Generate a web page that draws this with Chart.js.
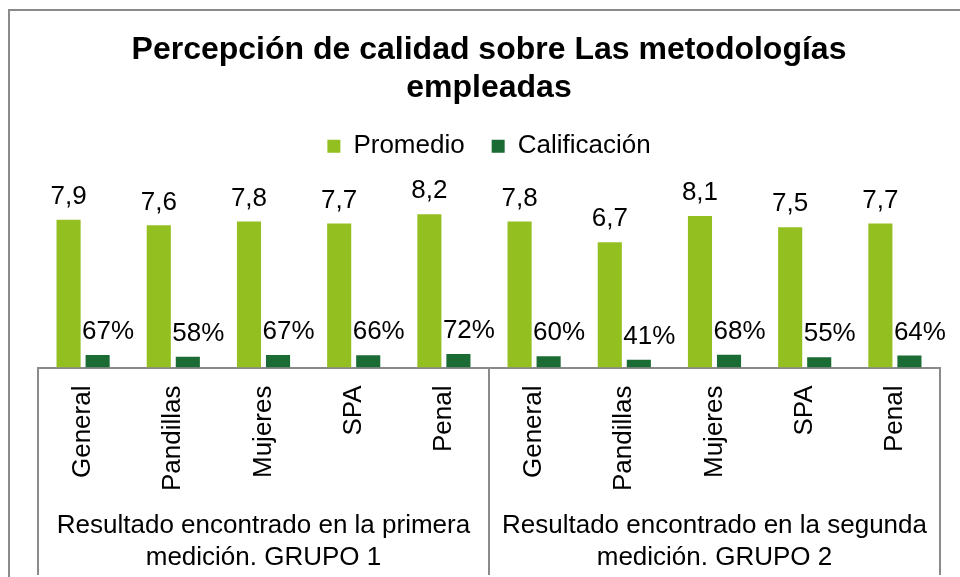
<!DOCTYPE html>
<html><head><meta charset="utf-8">
<script src="https://cdn.jsdelivr.net/npm/chart.js@4"></script>
<style>html,body{margin:0;padding:0;background:#fff}</style>
</head><body>
<canvas id="c" width="960" height="577"></canvas>
<script>
const categories = ['General','Pandillas','Mujeres','SPA','Penal','General','Pandillas','Mujeres','SPA','Penal'];
const groupLabels = [['Resultado encontrado en la primera','medición. GRUPO 1'],['Resultado encontrado en la segunda','medición. GRUPO 2']];
const groupSize = 5;
const seriesNames = ['Promedio','Calificación'];
const promedio = [7.9,7.6,7.8,7.7,8.2,7.8,6.7,8.1,7.5,7.7];
const calificacion = [0.67,0.58,0.67,0.66,0.72,0.60,0.41,0.68,0.55,0.64];
const titleLines = ['Percepción de calidad sobre Las metodologías','empleadas'];

const FONT = "'Liberation Sans', Arial, sans-serif";
const GRAY = '#8a8a8a';

const framePlugin = {
  id: 'frame',
  beforeDraw(chart) {
    const ctx = chart.ctx;
    ctx.save();
    ctx.fillStyle = '#fff';
    ctx.fillRect(0, 0, chart.width, chart.height);
    ctx.strokeStyle = GRAY;
    ctx.lineWidth = 2;
    ctx.strokeRect(9, 10, 2000, 2000);
    ctx.restore();
  },
  afterDraw(chart) {
    // group separators along the category axis, from the scale's own tick positions
    const xs = chart.scales.x;
    const n = xs.ticks.length;
    const half = (xs.getPixelForTick(1) - xs.getPixelForTick(0)) / 2;
    const ctx = chart.ctx;
    ctx.save();
    ctx.strokeStyle = GRAY;
    ctx.lineWidth = 2;
    const bottom = chart.scales.x2.bottom;
    for (let i = 0; i <= n; i += groupSize) {
      const px = i < n ? xs.getPixelForTick(i) - half : xs.getPixelForTick(n - 1) + half;
      ctx.beginPath();
      ctx.moveTo(px, xs.top);
      ctx.lineTo(px, bottom);
      ctx.stroke();
    }
    ctx.restore();
  }
};

const labelPlugin = {
  id: 'valueLabels',
  afterDatasetsDraw(chart) {
    const ctx = chart.ctx;
    ctx.save();
    ctx.font = '26px ' + FONT;
    ctx.fillStyle = '#000';
    ctx.textAlign = 'center';
    ctx.textBaseline = 'middle';
    chart.data.datasets.forEach((ds, di) => {
      const meta = chart.getDatasetMeta(di);
      meta.data.forEach((el, i) => {
        const v = ds.data[i];
        const txt = di === 0 ? v.toFixed(1).replace('.', ',') : Math.round(v * 100) + '%';
        const dx = di === 0 ? 0 : 10.5;
        ctx.fillText(txt, el.x + dx, el.y - 23);
      });
    });
    ctx.restore();
  }
};

new Chart(document.getElementById('c'), {
  type: 'bar',
  data: {
    labels: categories,
    datasets: [
      { label: seriesNames[0], data: promedio, backgroundColor: '#93C020', borderWidth: 0,
        categoryPercentage: 0.644, barPercentage: 0.83 },
      { label: seriesNames[1], data: calificacion, backgroundColor: '#1A6B34', borderWidth: 0,
        categoryPercentage: 0.644, barPercentage: 0.83 }
    ]
  },
  options: {
    responsive: false,
    animation: false,
    devicePixelRatio: 1,
    layout: { padding: { left: 38, right: 20, top: 0, bottom: 2 } },
    plugins: {
      title: {
        display: true,
        text: titleLines,
        color: '#000',
        font: { family: FONT, size: 32, weight: 'bold', lineHeight: 1.16 },
        padding: { top: 32, bottom: 0 }
      },
      legend: {
        display: true,
        position: 'top',
        labels: {
          color: '#000',
          font: { family: FONT, size: 26 },
          boxWidth: 13, boxHeight: 13,
          padding: 27
        }
      },
      tooltip: { enabled: false }
    },
    scales: {
      x: {
        type: 'category',
        position: 'bottom',
        offset: true,
        grid: { display: false, drawTicks: false },
        border: { display: true, color: GRAY, width: 2 },
        ticks: {
          color: '#000',
          font: { family: FONT, size: 26 },
          minRotation: 90, maxRotation: 90,
          autoSkip: false,
          padding: 18
        }
      },
      x2: {
        type: 'category',
        position: 'bottom',
        labels: groupLabels,
        offset: true,
        grid: { display: false, drawTicks: false },
        border: { display: false },
        ticks: {
          color: '#000',
          font: { family: FONT, size: 26, lineHeight: 1.23 },
          maxRotation: 0, minRotation: 0,
          autoSkip: false,
          padding: 1
        }
      },
      y: {
        display: false,
        min: 0,
        max: 10.6
      }
    }
  },
  plugins: [framePlugin, labelPlugin]
});
</script>
</body></html>
